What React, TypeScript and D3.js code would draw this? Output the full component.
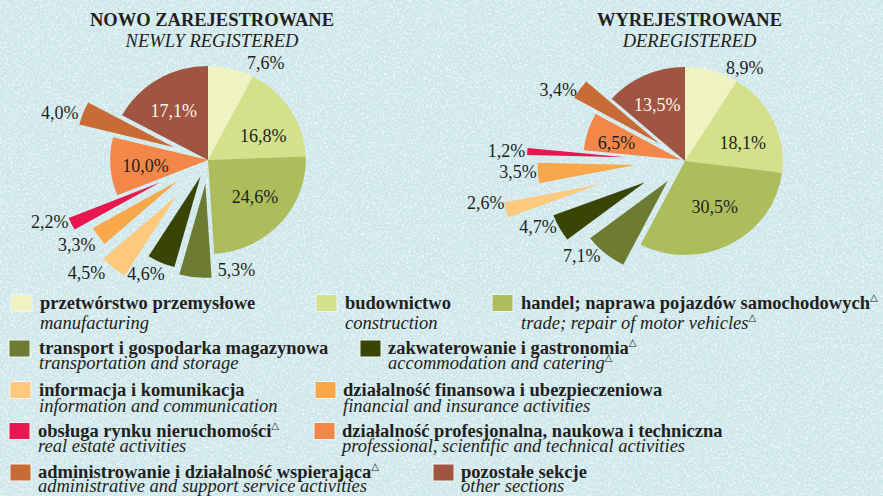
import { useMemo } from "react";
import * as d3 from "d3";

const W = 883;
const H = 496;

// sections, in the pies' clockwise order from 12 o'clock
const SECTIONS_PL = [
  "przetwórstwo przemysłowe",
  "budownictwo",
  "handel; naprawa pojazdów samochodowych",
  "transport i gospodarka magazynowa",
  "zakwaterowanie i gastronomia",
  "informacja i komunikacja",
  "działalność finansowa i ubezpieczeniowa",
  "obsługa rynku nieruchomości",
  "działalność profesjonalna, naukowa i techniczna",
  "administrowanie i działalność wspierająca",
  "pozostałe sekcje",
];
const SECTIONS_EN = [
  "manufacturing",
  "construction",
  "trade; repair of motor vehicles",
  "transportation and storage",
  "accommodation and catering",
  "information and communication",
  "financial and insurance activities",
  "real estate activities",
  "professional, scientific and technical activities",
  "administrative and support service activities",
  "other sections",
];
const MARK_PL = [false, false, true, false, true, false, false, true, false, true, false];
const MARK_EN = [false, false, true, false, true, false, false, false, false, false, false];

const COLORS = [
  "#eef3c1",
  "#d4e08a",
  "#adbd5b",
  "#6e7b32",
  "#384507",
  "#fdc97c",
  "#f9a74b",
  "#e8174f",
  "#f28749",
  "#c86b36",
  "#a05542",
];

const NEW_SHARES = [7.6, 16.8, 24.6, 5.3, 4.6, 4.5, 3.3, 2.2, 10.0, 4.0, 17.1];
const DEREG_SHARES = [8.9, 18.1, 30.5, 7.1, 4.7, 2.6, 3.5, 1.2, 6.5, 3.4, 13.5];

// layout
const PIE_R = 94;
const STRETCH_X = 1.04;
const INSIDE = [false, true, true, false, false, false, false, false, true, false, true];
const WHITE_LABEL = [false, false, false, false, false, false, false, false, false, false, true];

const PIES = [
  {
    title: "NOWO ZAREJESTROWANE",
    subtitle: "NEWLY REGISTERED",
    titleX: 212,
    cx: 208,
    cy: 160,
    values: NEW_SHARES,
    explode: [0, 0, 0, 24, 18, 47, 36, 52, 0, 35, 0],
    // [angle shift in degrees, radius shift]
    nudge: [[16, -2], [8, 0], [-3, 0], [-20, -25], [4, -4], [6, 1], [2, 2], [4, -2], [-1, 2], [-3, 1], [-3, 1]],
  },
  {
    title: "WYREJESTROWANE",
    subtitle: "DEREGISTERED",
    titleX: 689.5,
    cx: 685,
    cy: 161,
    values: DEREG_SHARES,
    explode: [0, 0, 0, 26, 44, 85, 48, 58, 4, 30, 0],
    nudge: [[15.5, -4], [7.5, 0], [-4, -4], [6.7, -3], [4, -2], [3.7, -3], [1, -1], [0, 0], [-2, 6], [-5, -3], [-1, 4]],
  },
];

// legend: [bold baseline, italic baseline] per row, and [row, swatch x, text x] per section
const LEGEND_ROWS = [
  [308.5, 328.5],
  [354, 368.5],
  [395.5, 411.5],
  [436.5, 451.5],
  [478, 492.3],
];
const LEGEND_POS = [
  [0, 11, 40],
  [0, 316, 345],
  [0, 492, 521],
  [1, 9, 39],
  [1, 360, 388],
  [2, 10, 39],
  [2, 315, 343],
  [3, 9, 38],
  [3, 314, 342],
  [4, 10, 38],
  [4, 433, 461],
];

const FONT = "'Liberation Serif', 'Times New Roman', serif";
const INK = "#231f20";

const fmtPct = (v: number) => d3.format(".1f")(v).replace(".", ",") + "%";

function Triangle() {
  return (
    <tspan fontFamily="'DejaVu Sans', sans-serif" fontWeight={400} fontStyle="normal" fontSize={10} dy={-8}>
      △
    </tspan>
  );
}

function Pie({ cfg }: { cfg: (typeof PIES)[number] }) {
  const arcs = useMemo(
    () => d3.pie<number>().sort(null).value((d) => d)(cfg.values),
    [cfg]
  );
  const arc = d3.arc<d3.PieArcDatum<number>>().innerRadius(0).outerRadius(PIE_R);

  return (
    <g>
      <text x={cfg.titleX} y={26} textAnchor="middle" fontFamily={FONT} fontWeight={700} fontSize={18.5} fill={INK}>
        {cfg.title}
      </text>
      <text x={cfg.titleX} y={46.5} textAnchor="middle" fontFamily={FONT} fontStyle="italic" fontSize={18.5} fill={INK}>
        {cfg.subtitle}
      </text>
      <g transform={`translate(${cfg.cx},${cfg.cy}) scale(${STRETCH_X},1)`}>
        {arcs.map((a, i) => {
          const mid = (a.startAngle + a.endAngle) / 2;
          const e = cfg.explode[i];
          return (
            <path
              key={i}
              d={arc(a) || ""}
              transform={`translate(${e * Math.sin(mid)},${-e * Math.cos(mid)})`}
              fill={COLORS[i]}
            />
          );
        })}
      </g>
      {arcs.map((a, i) => {
        const mid = (a.startAngle + a.endAngle) / 2;
        const [da, dr] = cfg.nudge[i];
        const base = INSIDE[i] ? PIE_R * 0.62 + cfg.explode[i] : cfg.explode[i] + PIE_R + 20;
        const ang = mid + (da * Math.PI) / 180;
        const r = base + dr;
        const x = cfg.cx + r * Math.sin(ang) * STRETCH_X;
        const y = cfg.cy - r * Math.cos(ang);
        return (
          <text
            key={i}
            x={x}
            y={y}
            dy="0.35em"
            textAnchor="middle"
            fontFamily={FONT}
            fontSize={18}
            fill={WHITE_LABEL[i] ? "#fbf6ee" : INK}
          >
            {fmtPct(a.data)}
          </text>
        );
      })}
    </g>
  );
}

export default function App() {
  return (
    <div style={{ position: "fixed", left: 0, top: 0 }}>
      <svg width={W} height={H} viewBox={`0 0 ${W} ${H}`} style={{ display: "block" }}>
        <defs>
          <filter id="paper" x="0" y="0" width="100%" height="100%">
            <feTurbulence type="fractalNoise" baseFrequency="0.45" numOctaves={3} seed={7} />
            <feColorMatrix type="matrix" values="0 0 0 0 1  0 0 0 0 1  0 0 0 0 1  2.2 0 0 0 -0.95" />
          </filter>
          <filter id="paperDark" x="0" y="0" width="100%" height="100%">
            <feTurbulence type="fractalNoise" baseFrequency="0.3" numOctaves={2} seed={3} />
            <feColorMatrix type="matrix" values="0 0 0 0 0.6  0 0 0 0 0.76  0 0 0 0 0.8  -2 0 0 0 0.95" />
          </filter>
        </defs>
        <rect width={W} height={H} fill="#cde7eb" />
        <rect width={W} height={H} filter="url(#paperDark)" opacity={0.4} />
        <rect width={W} height={H} filter="url(#paper)" opacity={0.8} />

        {PIES.map((p) => (
          <Pie key={p.title} cfg={p} />
        ))}

        {/* legend */}
        {SECTIONS_PL.map((name, i) => {
          const [row, sx, tx] = LEGEND_POS[i];
          const [yb, yi] = LEGEND_ROWS[row];
          return (
            <g key={name}>
              <rect x={sx} y={yb - 14} width={21} height={17} fill={COLORS[i]} stroke="#eef6f3" strokeWidth={1} />
              <text x={tx} y={yb} fontFamily={FONT} fontWeight={700} fontSize={18.5} fill={INK}>
                {name}
                {MARK_PL[i] && <Triangle />}
              </text>
              <text x={tx} y={yi} fontFamily={FONT} fontStyle="italic" fontSize={18.5} fill={INK}>
                {SECTIONS_EN[i]}
                {MARK_EN[i] && <Triangle />}
              </text>
            </g>
          );
        })}
      </svg>
    </div>
  );
}
